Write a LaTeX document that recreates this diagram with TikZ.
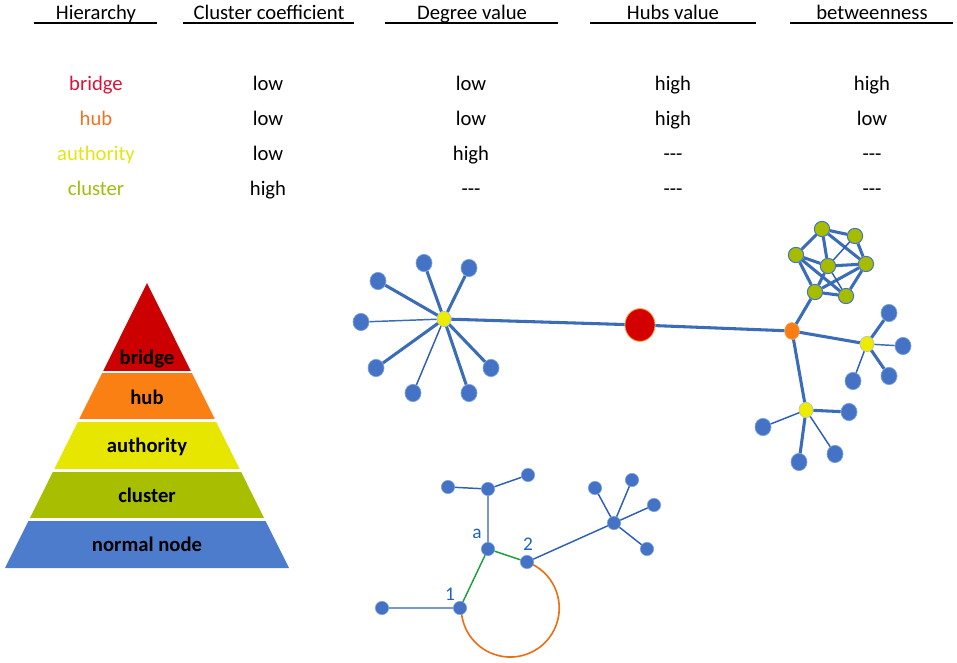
\documentclass[tikz,border=0pt]{standalone}
\usepackage{fontspec}
\setmainfont{Carlito}
\usetikzlibrary{shapes.geometric,backgrounds}
\definecolor{edgeblue}{RGB}{58,108,184}
\definecolor{leafblue}{RGB}{68,114,196}
\definecolor{leafline}{RGB}{120,160,225}
\definecolor{authyellow}{RGB}{236,236,0}
\definecolor{hubor}{RGB}{250,125,20}
\definecolor{bridgered}{RGB}{212,0,0}
\definecolor{clgreen}{RGB}{165,188,0}
\definecolor{txtbridge}{RGB}{214,20,60}
\definecolor{txthub}{RGB}{240,115,35}
\definecolor{txtauth}{RGB}{228,228,20}
\definecolor{txtcl}{RGB}{160,190,10}
\definecolor{pyrred}{RGB}{204,0,0}
\definecolor{pyror}{RGB}{250,128,20}
\definecolor{pyryel}{RGB}{230,230,0}
\definecolor{pyrgr}{RGB}{168,190,0}
\definecolor{pyrbl}{RGB}{78,124,205}
\definecolor{lblblue}{RGB}{30,100,180}
\definecolor{thinblue}{RGB}{45,95,185}
\definecolor{ggreen}{RGB}{30,160,60}
\definecolor{arcor}{RGB}{235,110,20}
\tikzset{
  txt/.style={font=\fontsize{15.5}{18}\selectfont, inner sep=0pt, anchor=center, text height=11pt, text depth=3pt},
  ptxt/.style={font=\fontsize{15.5}{18}\selectfont\bfseries, inner sep=0pt, anchor=center, text height=11pt, text depth=3pt},
  nlbl/.style={font=\fontsize{14.5}{17}\selectfont, text=lblblue, inner sep=0pt, anchor=center},
  uline/.style={line width=1.5pt},
  leaf/.style={ellipse, fill=leafblue, draw=leafline, line width=0.5pt, minimum width=12pt, minimum height=13pt, inner sep=0pt},
  auth/.style={ellipse, fill=authyellow, draw=gray!50, line width=0.5pt, minimum width=10.5pt, minimum height=11.5pt, inner sep=0pt},
  hubn/.style={ellipse, fill=hubor, draw=hubor!80!white, line width=0.5pt, minimum width=11pt, minimum height=12.5pt, inner sep=0pt},
  bridgen/.style={ellipse, fill=bridgered, draw=orange!80, line width=0.6pt, minimum width=22.5pt, minimum height=24.5pt, inner sep=0pt},
  clnode/.style={ellipse, fill=clgreen, draw=leafblue, line width=0.7pt, minimum width=11.5pt, minimum height=11.5pt, inner sep=0pt},
  small/.style={circle, fill=leafblue, draw=leafline, line width=0.4pt, minimum size=10pt, inner sep=0pt},
  edge/.style={draw=edgeblue, line width=2.3pt},
  thinedge/.style={draw=edgeblue, line width=1.1pt},
  bedge/.style={draw=thinblue, line width=1.1pt},
  gedge/.style={draw=ggreen, line width=1.1pt},
  arcedge/.style={draw=arcor, line width=1.2pt},
}
\begin{document}
\begin{tikzpicture}[x=0.75pt,y=-0.75pt]
\useasboundingbox (0,0) rectangle (957,663);
% ---------- header ----------
\node[txt] (h1) at (96,14) {Hierarchy};
\node[txt] (h2) at (269,14) {Cluster coefficient};
\node[txt] (h3) at (472,14) {Degree value};
\node[txt] (h4) at (673,14) {Hubs value};
\node[txt] (h5) at (872,14) {betweenness};
\draw[uline] (34,23.5) -- (157,23.5);
\draw[uline] (183,23.5) -- (354,23.5);
\draw[uline] (385,23.5) -- (558,23.5);
\draw[uline] (590,23.5) -- (756,23.5);
\draw[uline] (790,23.5) -- (953,23.5);
% ---------- rows ----------
\node[txt, text=txtbridge] (r1c1) at (96,85) {bridge};
\node[txt] (r1c2) at (268,85) {low};
\node[txt] (r1c3) at (471,85) {low};
\node[txt] (r1c4) at (673,85) {high};
\node[txt] (r1c5) at (872,85) {high};
\node[txt, text=txthub] (r2c1) at (96,120) {hub};
\node[txt] (r2c2) at (268,120) {low};
\node[txt] (r2c3) at (471,120) {low};
\node[txt] (r2c4) at (673,120) {high};
\node[txt] (r2c5) at (872,120) {low};
\node[txt, text=txtauth] (r3c1) at (96,155) {authority};
\node[txt] (r3c2) at (268,155) {low};
\node[txt] (r3c3) at (471,155) {high};
\node[txt] (r3c4) at (673,155) {-{}-{}-};
\node[txt] (r3c5) at (872,155) {-{}-{}-};
\node[txt, text=txtcl] (r4c1) at (96,190) {cluster};
\node[txt] (r4c2) at (268,190) {high};
\node[txt] (r4c3) at (471,190) {-{}-{}-};
\node[txt] (r4c4) at (673,190) {-{}-{}-};
\node[txt] (r4c5) at (872,190) {-{}-{}-};
% ---------- pyramid ----------
\fill[pyrred] (147,283) -- (191.3,372) -- (102.7,372) -- cycle;
\fill[pyror] (102.7,372) -- (191.3,372) -- (215.5,420.5) -- (78.5,420.5) -- cycle;
\fill[pyryel] (78.5,420.5) -- (215.5,420.5) -- (240.4,470.5) -- (53.6,470.5) -- cycle;
\fill[pyrgr] (53.6,470.5) -- (240.4,470.5) -- (264.8,519.5) -- (29.2,519.5) -- cycle;
\fill[pyrbl] (29.2,519.5) -- (264.8,519.5) -- (289,568) -- (5,568) -- cycle;
\draw[white, line width=2pt] (95,372) -- (199,372) (70,420.5) -- (224,420.5) (45,470.5) -- (249,470.5) (20,519.5) -- (274,519.5);
\node[ptxt] (p1) at (147,359) {bridge};
\node[ptxt] (p2) at (147,399) {hub};
\node[ptxt] (p3) at (147,447) {authority};
\node[ptxt] (p4) at (147,497) {cluster};
\node[ptxt] (p5) at (147,546) {normal node};
% ---------- network: star 1 ----------
\node[auth] (y1) at (444,319) {};
\node[leaf] (l1) at (424,263) {};
\node[leaf] (l2) at (469,268) {};
\node[leaf] (l3) at (378,281) {};
\node[leaf] (l4) at (361,322) {};
\node[leaf] (l5) at (376,368) {};
\node[leaf] (l6) at (413,393) {};
\node[leaf] (l7) at (469,393) {};
\node[leaf] (l8) at (491,368) {};
\draw[edge] (y1) -- (l1) (y1) -- (l2) (y1) -- (l3) (y1) -- (l5) (y1) -- (l7) (y1) -- (l8);
\draw[thinedge] (y1) -- (l4);
\draw[thinedge, draw=thinblue] (y1) -- (l6);
% ---------- bridge and hub ----------
\node[bridgen] (br) at (640,325) {};
\node[hubn] (hb) at (792,331) {};
\draw[edge] (y1) -- (br);
\draw[edge] (br) -- (hb);
% ---------- cluster ----------
\node[clnode] (cA) at (822,229) {};
\node[clnode] (cB) at (855,236) {};
\node[clnode] (cC) at (796,255) {};
\node[clnode] (cD) at (828,266) {};
\node[clnode] (cE) at (866,264) {};
\node[clnode] (cF) at (815,292) {};
\node[clnode] (cG) at (846,296) {};
\draw[edge] (cA) -- (cB) (cB) -- (cE) (cE) -- (cG) (cG) -- (cF) (cF) -- (cC) (cC) -- (cA)
  (cA) -- (cD) (cA) -- (cE) (cC) -- (cD) (cC) -- (cG) (cD) -- (cE) (cD) -- (cF) (cF) -- (cE);
\draw[thinedge, draw=thinblue] (cB) -- (cD) (cD) -- (cG);
\draw[edge] (hb) -- (cF);
% ---------- star 2 ----------
\node[auth] (y2) at (867,344) {};
\node[leaf] (m1) at (889,313) {};
\node[leaf] (m2) at (903,346) {};
\node[leaf] (m3) at (889,376) {};
\node[leaf] (m4) at (853,381) {};
\draw[edge] (hb) -- (y2);
\draw[edge] (y2) -- (m1) (y2) -- (m3);
\draw[thinedge] (y2) -- (m2);
\draw[thinedge, draw=thinblue] (y2) -- (m4);
% ---------- star 3 ----------
\node[auth] (y3) at (806,410) {};
\node[leaf] (k1) at (849,412) {};
\node[leaf] (k2) at (763,427) {};
\node[leaf] (k3) at (799,462) {};
\node[leaf] (k4) at (835,454) {};
\draw[edge] (hb) -- (y3);
\draw[edge] (y3) -- (k1) (y3) -- (k3);
\draw[thinedge, draw=thinblue] (y3) -- (k2) (y3) -- (k4);
% ---------- lower network ----------
\node[small] (na) at (488,549) {};
\node[small] (nu) at (488,489) {};
\node[small] (nul) at (448,487) {};
\node[small] (nur) at (528,475) {};
\node[small] (n2) at (527,562) {};
\node[small] (n1) at (460,608) {};
\node[small] (nl) at (382,608) {};
\node[small] (sc) at (614,523) {};
\node[small] (s1) at (595,488) {};
\node[small] (s2) at (632,480) {};
\node[small] (s3) at (654,505) {};
\node[small] (s4) at (647,549) {};
\draw[bedge] (nl) -- (n1) (na) -- (nu) (nu) -- (nul) (nu) -- (nur) (n2) -- (sc)
  (sc) -- (s1) (sc) -- (s2) (sc) -- (s3) (sc) -- (s4);
\draw[gedge] (n1) -- (na) (na) -- (n2);
\begin{scope}[on background layer]
\draw[arcedge] (n2.center) arc[start angle=-70, end angle=180, radius=49];
\end{scope}
\node[nlbl] (la) at (477,534) {a};
\node[nlbl] (l2lab) at (528,544) {2};
\node[nlbl] (l1lab) at (450,594) {1};
\end{tikzpicture}
\end{document}
